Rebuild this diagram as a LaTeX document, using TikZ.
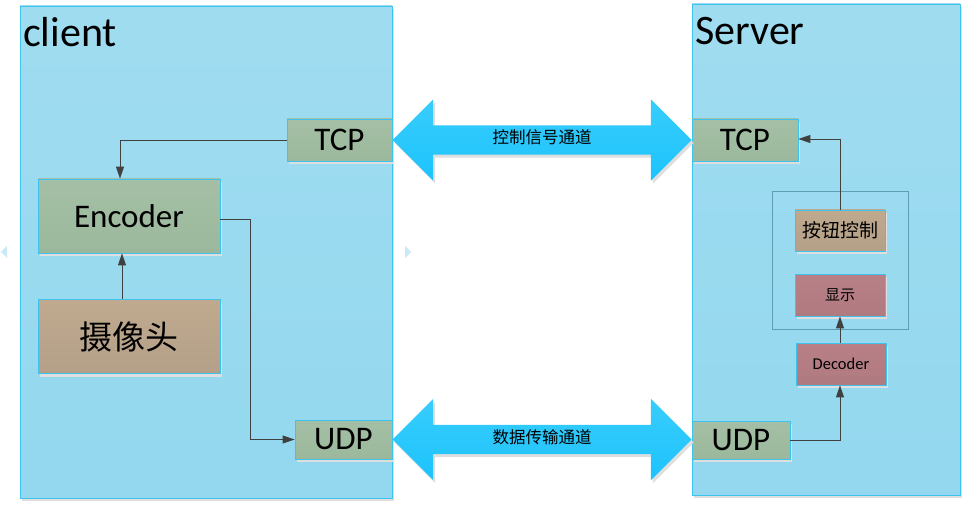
\documentclass[tikz,border=0pt]{standalone}
\usepackage{fontspec}
\setmainfont{Carlito}
\newfontfamily\cjk{Noto Sans CJK SC}
\usetikzlibrary{arrows.meta}
\usetikzlibrary{positioning}
\usetikzlibrary{calc}
\usetikzlibrary{shapes.arrows}
\usetikzlibrary{shadows}

\definecolor{paneltop}{HTML}{A0DCF0}
\definecolor{panelbot}{HTML}{93D8EF}
\definecolor{paneledge}{HTML}{3DC3EE}
\definecolor{greentop}{HTML}{A4BFA5}
\definecolor{greenbot}{HTML}{9BB89C}
\definecolor{tantop}{HTML}{BFAA8F}
\definecolor{tanbot}{HTML}{B4A088}
\definecolor{pinktop}{HTML}{B88086}
\definecolor{pinkbot}{HTML}{AF7A80}
\definecolor{groupedge}{HTML}{5E9FB6}
\definecolor{chantop}{HTML}{38CDFB}
\definecolor{chanbot}{HTML}{1DC3FD}
\definecolor{wire}{HTML}{404040}
\definecolor{edgemark}{HTML}{C9E9F8}

\begin{document}
\begin{tikzpicture}[
    x=1pt, y=-1pt,
    shade/.style={drop shadow={shadow xshift=2pt, shadow yshift=-3pt,
        fill=black!13, opacity=1}},
    panel/.style={draw=paneledge, line width=0.8pt,
        top color=paneltop, bottom color=panelbot, shade},
    box/.style={draw=paneledge, line width=0.8pt, inner sep=0pt,
        top color=greentop, bottom color=greenbot, shade,
        font=\fontsize{33}{35}\selectfont},
    tanbox/.style={box, top color=tantop, bottom color=tanbot},
    pinkbox/.style={box, top color=pinktop, bottom color=pinkbot,
        font=\fontsize{16.5}{18}\selectfont},
    chan/.style={double arrow, double arrow head extend=26pt,
        minimum height=299pt, text height=11pt, text depth=3pt,
        inner ysep=7.5pt, inner xsep=0pt,
        top color=chantop, bottom color=chanbot,
        font=\cjk\fontsize{16.5}{16.5}\selectfont, shade},
    conn/.style={draw=wire, line width=0.9pt,
        -{Triangle[length=12pt,width=8pt]}},
    title/.style={anchor=base west, inner sep=0pt,
        font=\fontsize{42}{44}\selectfont}
]
\useasboundingbox (0,0) rectangle (972,505);

% panels
\node[panel, minimum width=372, minimum height=492] (client) at (206,252) {};
\node[panel, minimum width=268, minimum height=491] (server) at (826,249.5) {};
\node[title] (clientname) at (23,47) {client};
\node[title] (servername) at (695,45) {Server};

% client side
\node[box, minimum width=105, minimum height=42] (ctcp) at (339.5,140) {TCP};
\node[box, minimum width=182, minimum height=74] (encoder) at (129,216) {Encoder};
\node[tanbox, minimum width=182, minimum height=74, below=46pt of encoder]
    (cam) {\cjk 摄像头};
\node[box, minimum width=97, minimum height=39] (cudp) at (343.5,439.5) {UDP};

% server side
\node[box, minimum width=106, minimum height=42] (stcp) at (745,140) {TCP};
\node[draw=groupedge, line width=0.8pt, minimum width=136, minimum height=138]
    (group) at (840,260) {};
\node[tanbox, minimum width=90, minimum height=41,
    font=\cjk\fontsize{19}{20}\selectfont] (button) at (840,230.5) {按钮控制};
\node[pinkbox, minimum width=90, minimum height=42,
    font=\cjk\fontsize{15}{16}\selectfont] (display) at (840,295) {显示};
\node[pinkbox, minimum width=90, minimum height=42] (decoder) at (841,364) {Decoder};
\node[box, minimum width=98, minimum height=38] (sudp) at (741,440) {UDP};

% channels
\node[chan] (ctrl) at ($(ctcp.east)!0.5!(stcp.west)$) {控制信号通道};
\node[chan] (data) at (542,439.5) {数据传输通道};

% wires
\draw[conn] (ctcp.west) -| ([xshift=-9pt]encoder.north);
\draw[conn] ([xshift=-7pt]cam.north) -- ([xshift=-7pt]encoder.south);
\draw[conn] ([yshift=-3pt]encoder.east) -- ++(30,0) |- (cudp.west);
\draw[conn] (sudp.east) -| ([xshift=-1pt]decoder.south);
\draw[conn] ([xshift=-1pt]decoder.north) -- (display.south);
\draw[conn] (button.north) |- ([yshift=1pt]stcp.east);

% page edge marks
\fill[edgemark] (1,252) -- (7,246) -- (7,258) -- cycle;
\fill[edgemark] (411,252) -- (405,246) -- (405,258) -- cycle;
\end{tikzpicture}
\end{document}
